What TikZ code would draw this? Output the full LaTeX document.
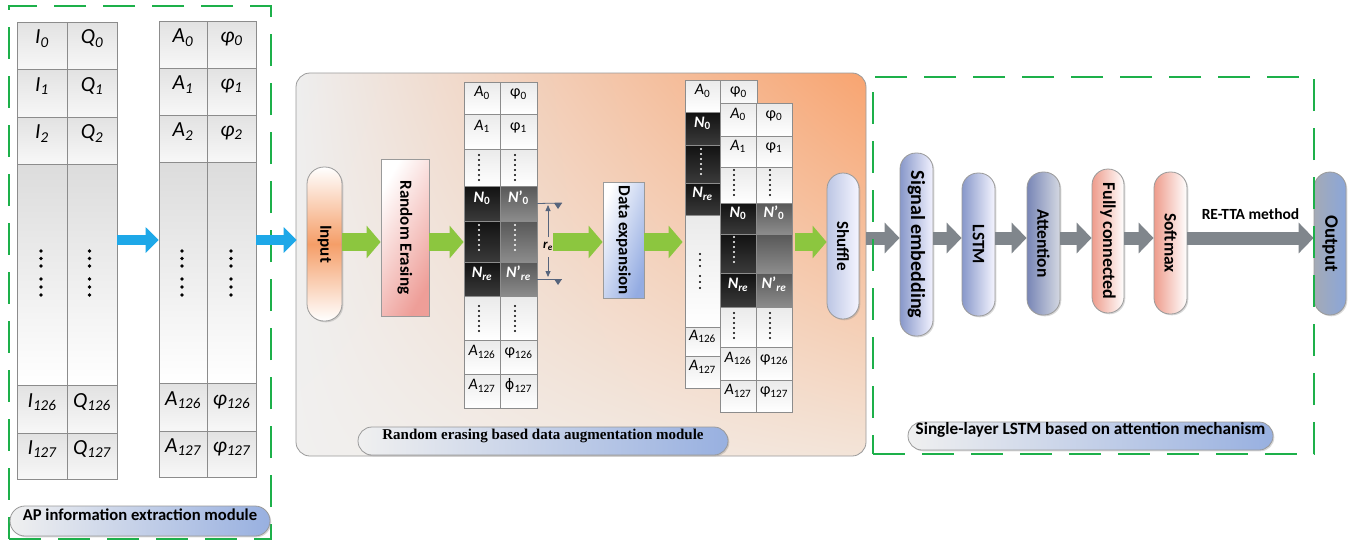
\documentclass[tikz,border=0pt]{standalone}
\usepackage{fontspec}
\setmainfont{Carlito}
\newfontfamily\timesf{Liberation Serif}
\newfontfamily\dejavu{DejaVu Sans}
\usetikzlibrary{fit,arrows.meta,shadows,shadings}

\definecolor{dashgreen}{HTML}{1DB04A}
\definecolor{cellline}{HTML}{8C8C8C}
\definecolor{arrgreen}{HTML}{8CC63F}
\definecolor{arrblue}{HTML}{1EA8E8}
\definecolor{arrgray}{HTML}{80868C}
\definecolor{pillline}{HTML}{9A9A9A}
\definecolor{augul}{HTML}{EEEEEE}
\definecolor{augur}{HTML}{F8A470}
\definecolor{augll}{HTML}{F1F0EF}
\definecolor{auglr}{HTML}{F3E4D8}
\definecolor{lblblue}{HTML}{98B0E0}
\definecolor{sigblue}{HTML}{8898CA}
\definecolor{attblue}{HTML}{7886B6}
\definecolor{attright}{HTML}{D4D8E2}
\definecolor{salmon}{HTML}{EE9C8C}
\definecolor{outgray}{HTML}{A4AAB6}
\definecolor{outblue}{HTML}{8AA6DA}
\definecolor{repink}{HTML}{EE9E98}
\definecolor{debl}{HTML}{94ACE2}
\definecolor{shufbl}{HTML}{BCC6E4}
\definecolor{inorange}{HTML}{F59E68}
\definecolor{annotc}{HTML}{56647C}
\definecolor{mtop}{HTML}{E2E2E2}
\definecolor{bigtop}{HTML}{DCDCDC}
\definecolor{ttop}{HTML}{EAEAEA}
\definecolor{dtop}{HTML}{121212}
\definecolor{dbot}{HTML}{3A3A3A}
\definecolor{gtop}{HTML}{585858}
\definecolor{gbot}{HTML}{8C8C8C}

\newcommand\sbs[1]{\textsubscript{#1}}
\newcommand\cellat[5]{\node[#1, fit={(#3)(#4)}] (#2) {#5};}
\newcommand\dotsat[3]{\foreach \yy in {#2} {\fill[#3] (#1,\yy) circle[radius=1.15pt];}}

\tikzset{
  dashbox/.style={draw=dashgreen, line width=2pt, dash pattern=on 32pt off 17pt, inner sep=0pt},
  m1cell/.style={draw=cellline, line width=0.8pt, inner sep=0pt, top color=mtop, bottom color=white!97!black,
    font=\fontsize{21.5}{24}\selectfont\itshape},
  m1big/.style={m1cell, top color=bigtop, bottom color=white},
  tcell/.style={draw=cellline, line width=0.8pt, inner sep=0pt, top color=ttop, bottom color=white,
    font=\fontsize{16}{19}\selectfont},
  dcell/.style={tcell, top color=dtop, bottom color=dbot, text=white, font=\fontsize{16}{19}\selectfont\bfseries},
  gcell/.style={tcell, top color=gtop, bottom color=gbot, text=white, font=\fontsize{16}{19}\selectfont\bfseries},
  pill/.style={draw=pillline, line width=0.8pt, rounded corners=#1, inner sep=0pt,
    drop shadow={shadow xshift=1.3pt, shadow yshift=-1.3pt, opacity=0.3}},
  pill/.default=16pt,
  vlabel/.style={font=\fontsize{17}{20}\selectfont\bfseries},
  garr/.style={draw=arrgreen, line width=18pt, -{Triangle[length=14pt,width=32pt]}},
  barr/.style={draw=arrblue, line width=10pt, -{Triangle[length=13pt,width=25pt]}},
  yarr/.style={draw=arrgray, line width=13pt, -{Triangle[length=15pt,width=30pt]}},
  annot/.style={draw=annotc, line width=0.8pt},
}

\begin{document}
\begin{tikzpicture}[x=1pt,y=-1pt]
\useasboundingbox (0,0) rectangle (1356,541);
\fill[white] (0,0) rectangle (1356,541);

% ================= Module 1 =================
\node[dashbox, fit={(9,6)(271,539)}] (m1) {};
% table 1
\cellat{m1cell}{ta0}{17,22}{67,69}{I\sbs{0}}
\cellat{m1cell}{tb0}{67,22}{117,69}{Q\sbs{0}}
\cellat{m1cell}{ta1}{17,69}{67,117}{I\sbs{1}}
\cellat{m1cell}{tb1}{67,69}{117,117}{Q\sbs{1}}
\cellat{m1cell}{ta2}{17,117}{67,164}{I\sbs{2}}
\cellat{m1cell}{tb2}{67,117}{117,164}{Q\sbs{2}}
\cellat{m1big}{tabig}{17,164}{67,385}{}
\cellat{m1big}{tbbig}{67,164}{117,385}{}
\cellat{m1cell}{ta126}{17,385}{67,433}{I\sbs{126}}
\cellat{m1cell}{tb126}{67,385}{117,433}{Q\sbs{126}}
\cellat{m1cell}{ta127}{17,433}{67,479}{I\sbs{127}}
\cellat{m1cell}{tb127}{67,433}{117,479}{Q\sbs{127}}
% table 2
\cellat{m1cell}{ua0}{159,21}{207,68}{A\sbs{0}}
\cellat{m1cell}{ub0}{207,21}{256,68}{φ\sbs{0}}
\cellat{m1cell}{ua1}{159,68}{207,115}{A\sbs{1}}
\cellat{m1cell}{ub1}{207,68}{256,115}{φ\sbs{1}}
\cellat{m1cell}{ua2}{159,115}{207,162}{A\sbs{2}}
\cellat{m1cell}{ub2}{207,115}{256,162}{φ\sbs{2}}
\cellat{m1big}{uabig}{159,162}{207,383}{}
\cellat{m1big}{ubbig}{207,162}{256,383}{}
\cellat{m1cell}{ua126}{159,383}{207,431}{A\sbs{126}}
\cellat{m1cell}{ub126}{207,383}{256,431}{φ\sbs{126}}
\cellat{m1cell}{ua127}{159,431}{207,477}{A\sbs{127}}
\cellat{m1cell}{ub127}{207,431}{256,477}{φ\sbs{127}}
\foreach \xx in {41,89.5,182,231} {
  \foreach \yy in {251,258.5,266,279,287,295} {\fill (\xx,\yy) circle[radius=1.9pt];}
}
\node[pill=15pt, left color=white!94!black, right color=lblblue, fit={(10,506)(270,536)},
  font=\fontsize{16.6}{19}\selectfont\bfseries] (m1lbl) {AP information extraction module};

% ================= Module 2 =================
\node[draw=pillline, line width=0.8pt, rounded corners=14pt, inner sep=0pt,
  upper left=augul, upper right=augur, lower left=augll, lower right=auglr,
  fit={(296,73)(866,456)}] (aug) {};
\coordinate (ay) at (0,240);
\draw[barr] (tbbig.east |- ay) -- (uabig.west |- ay);
\draw[barr] (ubbig.east |- ay) -- ([xshift=1pt]aug.west |- ay);

\node[pill=17pt, top color=white, bottom color=white, middle color=inorange, fit={(307,167)(342,321)}, vlabel] (inp) {\rotatebox{-90}{Input}};
\node[draw=pillline, line width=0.8pt, inner sep=0pt, left color=white, right color=repink, shading angle=60,
  drop shadow={shadow xshift=1.3pt, shadow yshift=-1.3pt, opacity=0.3},
  fit={(381,159)(429,316)}, vlabel] (re) {\rotatebox{-90}{Random Erasing}};

% table 3
\cellat{tcell}{va0}{464,82}{500,114}{\textit{A}\sbs{0}}
\cellat{tcell}{vb0}{500,82}{537,114}{φ\sbs{0}}
\cellat{tcell}{va1}{464,114}{500,149}{\textit{A}\sbs{1}}
\cellat{tcell}{vb1}{500,114}{537,149}{φ\sbs{1}}
\cellat{tcell}{vad}{464,149}{500,186}{}
\cellat{tcell}{vbd}{500,149}{537,186}{}
\cellat{dcell}{van}{464,186}{500,221}{\textit{N}\sbs{0}}
\cellat{gcell}{vbn}{500,186}{537,221}{\textit{N}'\sbs{0}}
\cellat{dcell}{vaed}{464,221}{500,262}{}
\cellat{gcell}{vbed}{500,221}{537,262}{}
\cellat{dcell}{vanr}{464,262}{500,296}{\textit{N}\sbs{\textit{re}}}
\cellat{gcell}{vbnr}{500,262}{537,296}{\textit{N}'\sbs{\textit{re}}}
\cellat{tcell}{vad2}{464,296}{500,340}{}
\cellat{tcell}{vbd2}{500,296}{537,340}{}
\cellat{tcell}{va126}{464,340}{500,374}{\textit{A}\sbs{126}}
\cellat{tcell}{vb126}{500,340}{537,374}{φ\sbs{126}}
\cellat{tcell}{va127}{464,374}{500,408}{\textit{A}\sbs{127}}
\cellat{tcell}{vb127}{500,374}{537,408}{{\dejavu\fontsize{14.5}{17}\selectfont ϕ}\sbs{127}}
\dotsat{479}{155,160,165,170,175,180}{black}
\dotsat{515}{155,160,165,170,175,180}{black}
\dotsat{479}{225,230,235,240,245,250}{white}
\dotsat{515}{225,230,235,240,245,250}{white}
\dotsat{479}{306,311,316,321,326,331}{black}
\dotsat{515}{306,311,316,321,326,331}{black}

% r_e annotation
\coordinate (rt) at (562,203);
\coordinate (rb) at (562,279);
\coordinate (rvt) at (548,205);
\coordinate (rvm1) at (548,237);
\coordinate (rvm2) at (548,257);
\coordinate (rvb) at (548,277);
\draw[annot] (vbn.east) -- (rt);
\draw[annot] (vbnr.east) -- (rb);
\fill[annotc] (554,203) -- (562,203) -- (558,209) -- cycle;
\fill[annotc] (554,279) -- (562,279) -- (558,285) -- cycle;
\draw[annot, -{Triangle[length=6pt,width=5pt]}] (rvm1) -- (rvt);
\draw[annot, -{Triangle[length=6pt,width=5pt]}] (rvm2) -- (rvb);
\node[font=\fontsize{13}{15}\selectfont\bfseries] (relbl) at (548,246) {\textit{r}\sbs{\textit{e}}};

\node[draw=pillline, line width=0.8pt, inner sep=0pt, left color=white, right color=debl, shading angle=70,
  drop shadow={shadow xshift=1.3pt, shadow yshift=-1.3pt, opacity=0.3},
  fit={(603,182)(644,298)}, vlabel] (de) {\rotatebox{-90}{Data expansion}};

% back table
\cellat{tcell}{wa0}{685,80}{720,112}{\textit{A}\sbs{0}}
\cellat{tcell}{wb0}{720,80}{757,112}{φ\sbs{0}}
\cellat{dcell}{wan}{685,112}{720,145}{\textit{N}\sbs{0}}
\cellat{dcell}{waed}{685,145}{720,183}{}
\cellat{dcell}{wanr}{685,183}{720,215}{\textit{N}\sbs{\textit{re}}}
\cellat{tcell}{wabig}{685,215}{720,327}{}
\cellat{tcell}{wa126}{685,327}{720,356}{\textit{A}\sbs{126}}
\cellat{tcell}{wa127}{685,356}{720,388}{\textit{A}\sbs{127}}
\dotsat{701}{149,154,159,164,169,174}{white}
\dotsat{700}{254,260,266,276,282,288}{black}

% front table
\cellat{tcell}{xa0}{720,103}{756,136}{\textit{A}\sbs{0}}
\cellat{tcell}{xb0}{756,103}{792,136}{φ\sbs{0}}
\cellat{tcell}{xa1}{720,136}{756,167}{\textit{A}\sbs{1}}
\cellat{tcell}{xb1}{756,136}{792,167}{φ\sbs{1}}
\cellat{tcell}{xad}{720,167}{756,203}{}
\cellat{tcell}{xbd}{756,167}{792,203}{}
\cellat{dcell}{xan}{720,203}{756,234}{\textit{N}\sbs{0}}
\cellat{gcell}{xbn}{756,203}{792,234}{\textit{N}'\sbs{0}}
\cellat{dcell}{xaed}{720,234}{756,273}{}
\cellat{gcell}{xbed}{756,234}{792,273}{}
\cellat{dcell}{xanr}{720,273}{756,307}{\textit{N}\sbs{\textit{re}}}
\cellat{gcell}{xbnr}{756,273}{792,307}{\textit{N}'\sbs{\textit{re}}}
\cellat{tcell}{xad2}{720,307}{756,347}{}
\cellat{tcell}{xbd2}{756,307}{792,347}{}
\cellat{tcell}{xa126}{720,347}{756,380}{\textit{A}\sbs{126}}
\cellat{tcell}{xb126}{756,347}{792,380}{φ\sbs{126}}
\cellat{tcell}{xa127}{720,380}{756,412}{\textit{A}\sbs{127}}
\cellat{tcell}{xb127}{756,380}{792,412}{φ\sbs{127}}
\dotsat{734}{170,175,180,185,190,195}{black}
\dotsat{770}{170,175,180,185,190,195}{black}
\dotsat{734}{237,242,247,252,257,262}{white}
\dotsat{734}{313,318,323,328,333,338}{black}
\dotsat{770}{313,318,323,328,333,338}{black}

\node[pill=16pt, left color=shufbl, right color=white!96!blue, fit={(827,173)(859,319)}, vlabel] (shuf) {\rotatebox{-90}{Shuffle}};

% green arrows
\coordinate (gy) at (0,242);
\coordinate (gstart) at (553,242);
\draw[garr] (inp.east |- gy) -- (re.west |- gy);
\draw[garr] (re.east |- gy) -- (vaed.west |- gy);
\draw[garr] (gstart) -- (de.west |- gy);
\draw[garr] (de.east |- gy) -- ([xshift=-2pt]wabig.west |- gy);
\draw[garr] ([xshift=3pt]xbed.east |- gy) -- (shuf.west |- gy);

\node[pill=14pt, left color=white!94!black, right color=lblblue, fit={(358,427)(728,455)},
  font=\timesf\fontsize{15}{18}\selectfont\bfseries] (auglbl) {Random erasing based data augmentation module};

% ================= Module 3 =================
\node[pill, left color=sigblue, right color=white!95!blue, fit={(900,153)(933,336)}, font=\fontsize{20}{23}\selectfont\bfseries] (sig) {\rotatebox{-90}{Signal embedding}};
\node[pill, left color=sigblue, right color=white!96!blue, fit={(962,173)(995,316)}, font=\fontsize{17.5}{20}\selectfont\bfseries] (lstm) {\rotatebox{-90}{LSTM}};
\node[pill, left color=attblue, right color=attright, fit={(1027,172)(1060,315)}, font=\fontsize{17.5}{20}\selectfont\bfseries] (att) {\rotatebox{-90}{Attention}};
\node[pill, left color=salmon, right color=white, fit={(1092,169)(1124,313)}, font=\fontsize{18}{21}\selectfont\bfseries] (fc) {\rotatebox{-90}{Fully connected}};
\node[pill, left color=salmon, right color=white, fit={(1154,172)(1187,314)}, font=\fontsize{17.5}{20}\selectfont\bfseries] (soft) {\rotatebox{-90}{Softmax}};
\node[pill, left color=outgray, right color=outblue, fit={(1314,172)(1346,315)}, font=\fontsize{19}{22}\selectfont\bfseries] (out) {\rotatebox{-90}{Output}};

\coordinate (yy) at (0,238);
\draw[yarr] (aug.east |- yy) -- (sig.west |- yy);
\draw[yarr] (sig.east |- yy) -- (lstm.west |- yy);
\draw[yarr] (lstm.east |- yy) -- (att.west |- yy);
\draw[yarr] (att.east |- yy) -- (fc.west |- yy);
\draw[yarr] (fc.east |- yy) -- (soft.west |- yy);
\draw[yarr] (soft.east |- yy) -- node[above=9pt, font=\fontsize{15.5}{18}\selectfont\bfseries] (retta) {RE-TTA method} (out.west |- yy);

\node[dashbox, fit={(873,77)(1314,454)}] (m3) {};
\node[pill=14pt, left color=white!94!black, right color=lblblue, fit={(908,422)(1273,450)},
  font=\fontsize{17.2}{20}\selectfont\bfseries] (m3lbl) {Single-layer LSTM based on attention mechanism};
\end{tikzpicture}
\end{document}
